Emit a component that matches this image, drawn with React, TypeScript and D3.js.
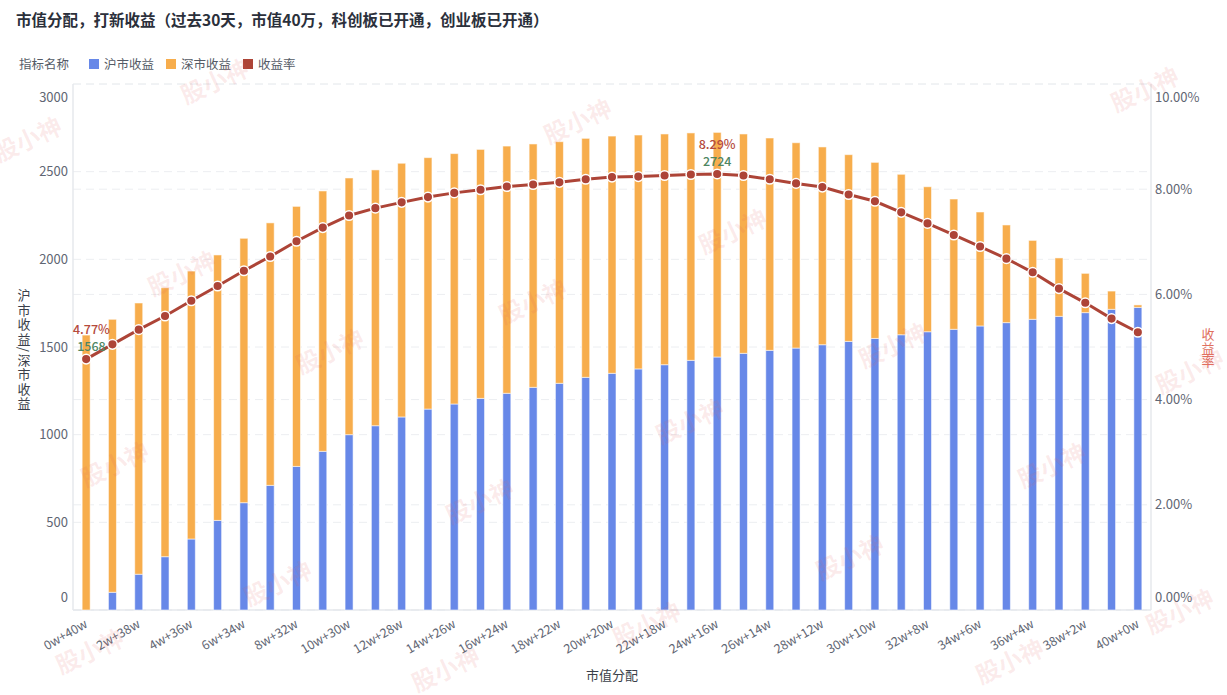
import React from 'react';
import * as d3 from 'd3';

const categories = [
  '0w+40w', '1w+39w', '2w+38w', '3w+37w', '4w+36w', '5w+35w', '6w+34w', '7w+33w', '8w+32w', '9w+31w',
  '10w+30w', '11w+29w', '12w+28w', '13w+27w', '14w+26w', '15w+25w', '16w+24w', '17w+23w', '18w+22w', '19w+21w',
  '20w+20w', '21w+19w', '22w+18w', '23w+17w', '24w+16w', '25w+15w', '26w+14w', '27w+13w', '28w+12w', '29w+11w',
  '30w+10w', '31w+9w', '32w+8w', '33w+7w', '34w+6w', '35w+5w', '36w+4w', '37w+3w', '38w+2w', '39w+1w', '40w+0w',
];

// 沪市收益
const shValues = [
  0, 101, 204, 304, 405, 511, 612, 711, 819, 905,
  1000, 1051, 1101, 1146, 1175, 1207, 1236, 1270, 1293, 1327,
  1350, 1375, 1399, 1424, 1443, 1464, 1481, 1494, 1513, 1532,
  1549, 1570, 1587, 1601, 1620, 1639, 1658, 1675, 1696, 1715, 1726,
];

// 深市收益
const szValues = [
  1568, 1557, 1547, 1534, 1528, 1514, 1508, 1497, 1483, 1485,
  1464, 1459, 1447, 1434, 1428, 1420, 1410, 1388, 1378, 1363,
  1353, 1334, 1316, 1297, 1281, 1251, 1211, 1171, 1128, 1065,
  1004, 915, 827, 743, 650, 557, 450, 333, 224, 104, 14,
];

// 收益率 (%)
const rateValues = [
  4.77, 5.05, 5.33, 5.59, 5.88, 6.16, 6.45, 6.72, 7.01, 7.27,
  7.5, 7.64, 7.75, 7.85, 7.93, 7.99, 8.05, 8.09, 8.13, 8.19,
  8.23, 8.24, 8.26, 8.28, 8.29, 8.26, 8.19, 8.11, 8.04, 7.9,
  7.77, 7.56, 7.35, 7.13, 6.91, 6.68, 6.42, 6.11, 5.84, 5.54, 5.28,
];

const leftTicks = [0, 500, 1000, 1500, 2000, 2500, 3000];
const rightTicks = [0, 2, 4, 6, 8, 10];

const seriesNames = ['沪市收益', '深市收益', '收益率'];

const W = 1227;
const H = 695;
const M = { left: 73, right: 1151, top: 84, bottom: 610 };
const BLUE = '#6788E8';
const ORANGE = '#F7AD4C';
const RED = '#AD4437';
const GREEN = '#4F8662';
const FONT = '"Noto Sans CJK SC", "Noto Sans", sans-serif';
const AXIS_TEXT = '#5f6673';

function measure(text: string, font: string): number {
  const c = document.createElement('canvas').getContext('2d');
  if (!c) return text.length * 7;
  c.font = font;
  return c.measureText(text).width;
}

const watermarks: [number, number][] = [
  [215, 82], [578, 122], [1145, 90], [28, 140], [733, 232], [533, 302], [182, 274],
  [893, 346], [330, 352], [1190, 372], [115, 465], [690, 422], [1052, 466], [480, 502],
  [850, 558], [278, 584], [1180, 612], [90, 652], [647, 625], [1010, 662], [446, 670],
];

export default function App() {
  const x = d3.scaleBand<string>().domain(categories).range([M.left, M.right]).paddingInner(0).paddingOuter(0);
  const yL = d3.scaleLinear().domain([0, 3000]).range([M.bottom, M.top]);
  const yR = d3.scaleLinear().domain([0, 10]).range([M.bottom, M.top]);
  const bw = 8;
  const cx = (c: string) => (x(c) as number) + x.bandwidth() / 2;

  const stack = d3.stack<number>().keys(['sh', 'sz']).value((i, k) => (k === 'sh' ? shValues[i] : szValues[i]));
  const stacked = stack(categories.map((_, i) => i));

  const line = d3.line<number>().x((i) => cx(categories[i])).y((i) => yR(rateValues[i]));

  const totals = categories.map((_, i) => shValues[i] + szValues[i]);
  const maxIdx = d3.maxIndex(rateValues);
  const labelIdx = [0, maxIdx];
  const labelFont = `500 12.5px ${FONT}`;

  return (
    <svg width={W} height={H} style={{ position: 'absolute', left: 0, top: 0, fontFamily: FONT }}>
      <rect width={W} height={H} fill="#fff" />
      <text x={16} y={26} fontSize={15.5} fontWeight={700} fill="#2b303b">
        市值分配，打新收益（过去30天，市值40万，科创板已开通，创业板已开通）
      </text>

      {/* legend */}
      <g fontSize={12.5} fill="#555b66">
        <text x={19} y={68.5}>指标名称</text>
        {[BLUE, ORANGE, RED].map((col, k) => {
          const lx = [89, 166, 243][k];
          return (
            <g key={k}>
              <rect x={lx} y={59} width={10} height={10} fill={col} />
              <text x={lx + 15} y={68.5}>{seriesNames[k]}</text>
            </g>
          );
        })}
      </g>

      {/* grid lines */}
      <g stroke="#eceef1" strokeDasharray="8,5" strokeWidth={1}>
        {leftTicks.map((t) => (
          <line key={'l' + t} x1={M.left} x2={M.right} y1={yL(t)} y2={yL(t)} />
        ))}
        {rightTicks.map((t) => (
          <line key={'r' + t} x1={M.left} x2={M.right} y1={yR(t)} y2={yR(t)} />
        ))}
      </g>

      {/* axes lines */}
      <g stroke="#e6e8ec" strokeWidth={1.5}>
        <line x1={M.left} x2={M.left} y1={M.top} y2={M.bottom} />
        <line x1={M.right} x2={M.right} y1={M.top} y2={M.bottom} />
        <line x1={M.left} x2={M.right} y1={M.bottom} y2={M.bottom} />
      </g>

      {/* left tick labels */}
      <g fontSize={13} fill={AXIS_TEXT} textAnchor="end">
        {leftTicks.map((t, k) => {
          const shift = k === 0 ? -13 : k === leftTicks.length - 1 ? 13 : 0;
          return (
            <text key={t} x={68} y={yL(t) + shift} dy="0.35em">{t}</text>
          );
        })}
      </g>
      {/* right tick labels */}
      <g fontSize={13} fill={AXIS_TEXT} textAnchor="start">
        {rightTicks.map((t, k) => {
          const shift = k === 0 ? -13 : k === rightTicks.length - 1 ? 13 : 0;
          return (
            <text key={t} x={1155} y={yR(t) + shift} dy="0.35em">{d3.format('.2f')(t)}%</text>
          );
        })}
      </g>

      {/* axis titles */}
      <text x={24} y={350} fontSize={13} fill="#3a3f4a" textAnchor="middle" letterSpacing={1.5}
        style={{ writingMode: 'vertical-rl' }}>沪市收益/深市收益</text>
      <text x={1208} y={348} fontSize={13} fill="#e0705f" textAnchor="middle" letterSpacing={0.5}
        style={{ writingMode: 'vertical-rl' }}>收益率</text>
      <text x={(M.left + M.right) / 2} y={680} fontSize={13} fill="#3a3f4a" textAnchor="middle">市值分配</text>

      {/* bars */}
      {stacked.map((s, si) => (
        <g key={si} fill={si === 0 ? BLUE : ORANGE} stroke="#ffffff" strokeOpacity={0.55} strokeWidth={1}>
          {s.map((d, i) =>
            d[1] - d[0] > 0 ? (
              <rect key={i} x={cx(categories[i]) - bw / 2} y={yL(d[1])} width={bw}
                height={Math.max(0, yL(d[0]) - yL(d[1]))} />
            ) : null
          )}
        </g>
      ))}

      {/* line */}
      <path d={line(categories.map((_, i) => i)) || ''} fill="none" stroke={RED} strokeWidth={3} />
      {categories.map((c, i) => (
        <circle key={c} cx={cx(c)} cy={yR(rateValues[i])} r={4.8} fill={RED} stroke="#fff" strokeWidth={1.5} />
      ))}

      {/* x tick labels */}
      <g fontSize={12.5} fill={AXIS_TEXT} textAnchor="end">
        {categories.map((c, i) =>
          i % 2 === 0 ? (
            <text key={c} transform={`translate(${cx(c) - 2},${619}) rotate(-30)`} dy="0.7em">{c}</text>
          ) : null
        )}
      </g>

      {/* data labels */}
      {labelIdx.map((i) => {
        const rt = `${rateValues[i].toFixed(2)}%`;
        const tt = `${totals[i]}`;
        const w = Math.max(measure(rt, labelFont), measure(tt, labelFont));
        let lx = cx(categories[i]);
        if (lx - w / 2 < M.left) lx = M.left + w / 2;
        if (lx + w / 2 > M.right) lx = M.right - w / 2;
        const py = yR(rateValues[i]);
        return (
          <g key={i} fontSize={12.5} fontWeight={500} textAnchor="middle">
            <text x={lx} y={py - 29} dy="0.35em" fill="#b54a3c">{rt}</text>
            <text x={lx} y={py - 12} dy="0.35em" fill={GREEN}>{tt}</text>
          </g>
        );
      })}

      {/* watermarks */}
      <g fontSize={24} fontWeight={700} fill="#e06060" fillOpacity={0.13} textAnchor="middle">
        {watermarks.map(([wx, wy], k) => (
          <text key={k} x={wx} y={wy} dy="0.35em" transform={`rotate(-25,${wx},${wy})`}>股小神</text>
        ))}
      </g>
    </svg>
  );
}
